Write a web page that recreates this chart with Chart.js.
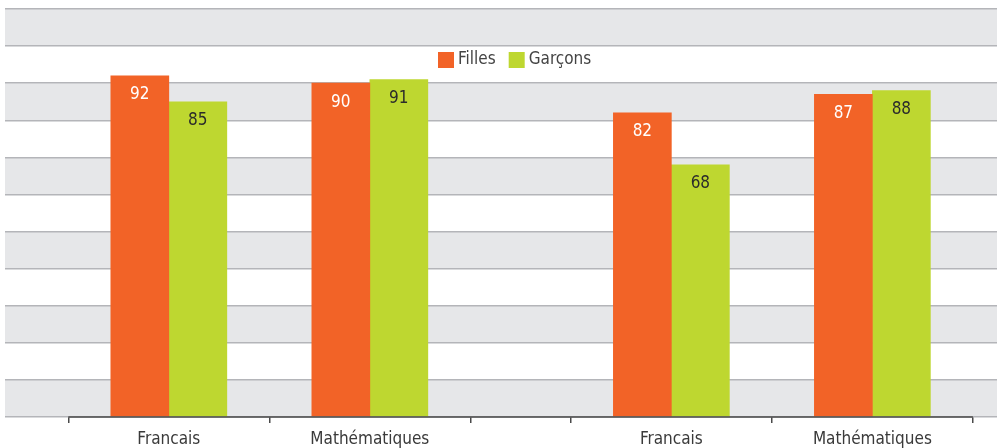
<!DOCTYPE html>
<html lang="fr">
<head>
  <meta charset="UTF-8">
  <title>Filles / Garçons</title>
  <script src="https://cdn.jsdelivr.net/npm/chart.js"></script>
</head>
<style>
  html, body {
    margin: 0;
    padding: 0;
    background: #ffffff;
  }
  .chart-box {
    width: 997px;
    height: 448px;
  }
</style>
<body>

<div class="chart-box">
  <canvas id="scoreChart"></canvas>
</div>

<script>
  // categories sit on a linear axis: two groups with a half-width gap between them
  const categories = ['Francais', 'Mathématiques', 'Francais', 'Mathématiques'];
  const categoryPos = [1, 3, 6, 8];
  const groupEdges = [0, 2, 4, 5, 7, 9];   // where the small tick marks go

  const filles = [92, 90, 82, 87];
  const garcons = [85, 91, 68, 88];

  const yTicks = [0, 10, 20, 30, 40, 50, 60, 70, 80, 90, 100, 110];

  const FONT = "'Liberation Sans Narrow', 'DejaVu Sans Condensed', 'Roboto', sans-serif";
  const ORANGE = '#f26327';
  const GREEN = '#bed730';

  const toPoints = vals => vals.map((v, i) => ({ x: categoryPos[i], y: v }));

  // grey / white horizontal bands behind everything
  const bandsPlugin = {
    id: 'bands',
    beforeDraw(chart) {
      const { ctx, chartArea } = chart;
      const y = chart.scales.y;
      ctx.save();
      for (let i = 0; i < yTicks.length - 1; i++) {
        if (i % 2 !== 0) continue;
        const top = y.getPixelForValue(yTicks[i + 1]);
        const bottom = y.getPixelForValue(yTicks[i]);
        ctx.fillStyle = '#e6e7e9';
        ctx.fillRect(chartArea.left, top, chartArea.right - chartArea.left, bottom - top);
      }
      ctx.restore();
    }
  };

  // value labels inside the top of each bar, dark axis segment, legend
  const labelsPlugin = {
    id: 'barLabels',
    afterDatasetsDraw(chart) {
      const { ctx } = chart;
      const x = chart.scales.x;
      const y = chart.scales.y;
      ctx.save();

      // dark base line between the outer tick marks
      ctx.strokeStyle = '#4a4a4a';
      ctx.lineWidth = 1.5;
      ctx.beginPath();
      ctx.moveTo(x.getPixelForValue(groupEdges[0]), y.getPixelForValue(0));
      ctx.lineTo(x.getPixelForValue(groupEdges[groupEdges.length - 1]), y.getPixelForValue(0));
      ctx.stroke();

      ctx.font = '17px ' + FONT;
      ctx.textAlign = 'center';
      ctx.textBaseline = 'middle';
      chart.data.datasets.forEach((ds, di) => {
        const meta = chart.getDatasetMeta(di);
        meta.data.forEach((bar, i) => {
          ctx.fillStyle = di === 0 ? '#ffffff' : '#2b2b2b';
          ctx.fillText(String(ds.data[i].y), bar.x, bar.y + 19);
        });
      });

      // legend drawn inside the white band near the top
      let lx = 438;
      const ly = 52;
      chart.data.datasets.forEach(ds => {
        ctx.fillStyle = ds.backgroundColor;
        ctx.fillRect(lx, ly, 16, 16);
        ctx.fillStyle = '#444444';
        ctx.textAlign = 'left';
        ctx.fillText(ds.label, lx + 20, ly + 8);
        lx += 20 + ctx.measureText(ds.label).width + 13;
      });
      ctx.restore();
    }
  };

  const ctx = document.getElementById('scoreChart').getContext('2d');
  const scoreChart = new Chart(ctx, {
    type: 'bar',
    data: {
      datasets: [{
        label: 'Filles',
        data: toPoints(filles),
        backgroundColor: ORANGE
      },
      {
        label: 'Garçons',
        data: toPoints(garcons),
        backgroundColor: GREEN
      }]
    },
    options: {
      responsive: true,
      maintainAspectRatio: false,
      animation: false,
      barThickness: 58,
      layout: {
        padding: { top: 9, left: 5, right: 0, bottom: 0 }
      },
      plugins: {
        legend: { display: false },
        tooltip: { enabled: false }
      },
      scales: {
        x: {
          type: 'linear',
          offset: false,
          min: -0.63,
          max: 9.24,
          afterBuildTicks: axis => {
            axis.ticks = groupEdges.concat(categoryPos)
              .sort((a, b) => a - b)
              .map(v => ({ value: v }));
          },
          // labels run off the bottom edge like in the original
          afterFit: axis => {
            axis.height = 31;
          },
          ticks: {
            autoSkip: false,
            maxRotation: 0,
            padding: 6,
            color: '#3a3a3a',
            font: { family: FONT, size: 17 },
            callback: value => {
              const i = categoryPos.indexOf(value);
              return i >= 0 ? categories[i] : '';
            }
          },
          grid: {
            offset: false,
            drawOnChartArea: false,
            drawTicks: true,
            tickLength: 6,
            lineWidth: 1.5,
            tickColor: c => groupEdges.includes(c.tick && c.tick.value) ? '#4a4a4a' : 'rgba(0,0,0,0)'
          },
          border: { display: false }
        },
        y: {
          min: 0,
          max: 110,
          afterBuildTicks: axis => {
            axis.ticks = yTicks.map(v => ({ value: v }));
          },
          ticks: { display: false },
          grid: {
            color: '#b4b5b9',
            lineWidth: 1.5,
            drawTicks: false
          },
          border: { display: false }
        }
      }
    },
    plugins: [bandsPlugin, labelsPlugin]
  });
</script>
</body>
</html>
